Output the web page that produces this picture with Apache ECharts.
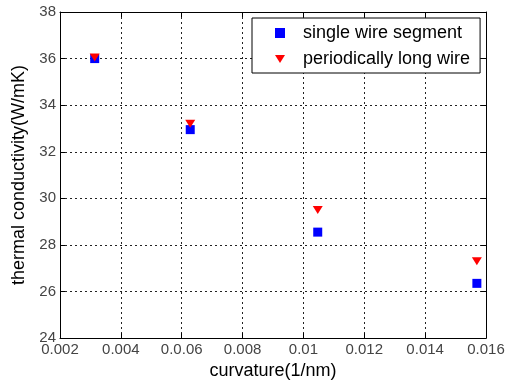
<!DOCTYPE html>
<html>
<head>
<meta charset="utf-8">
<script src="https://cdn.jsdelivr.net/npm/echarts@6/dist/echarts.min.js"></script>
<style>
  html, body { margin: 0; padding: 0; background: #fff; }
  #chart { width: 512px; height: 385px; }
</style>
</head>
<body>
<div id="chart"></div>
<script>
// curvature (1/nm) of each sample
const curvature = [0.00314, 0.00628, 0.01047, 0.0157];
// thermal conductivity (W/mK)
const singleWire = [36.0, 32.95, 28.55, 26.35];
const periodicWire = [36.05, 33.2, 29.5, 27.3];

const xTickLabels = ['0.002', '0.004', '0.0.06', '0.008', '0.01', '0.012', '0.014', '0.016'];
const yTicks = [24, 26, 28, 30, 32, 34, 36, 38];

const xMin = 0.002, xMax = 0.016, xStep = 0.002;

const chart = echarts.init(document.getElementById('chart'));

const font = 'Liberation Sans, Arial, sans-serif';
const gridLine = { show: true, lineStyle: { color: '#222', type: [2, 3], width: 1 } };
const axisLine = { show: true, lineStyle: { color: '#000', width: 1 } };
const tick = { show: true, inside: true, length: 5, lineStyle: { color: '#000' } };
const triangle = 'path://M0,0 L10,0 L5,8 Z';

const option = {
  animation: false,
  backgroundColor: '#fff',
  grid: { left: 60, right: 26, top: 12, bottom: 44 },
  legend: {
    orient: 'vertical',
    left: 252,
    top: 18,
    width: 228,
    padding: [6, 10, 5, 23],
    itemGap: 8,
    itemWidth: 10,
    itemHeight: 10,
    backgroundColor: '#fff',
    borderColor: '#000',
    borderWidth: 1,
    borderRadius: 0,
    textStyle: { fontFamily: font, fontSize: 18, color: '#000', padding: [0, 0, 0, 13] },
    data: [
      { name: 'single wire segment', icon: 'rect' },
      { name: 'periodically long wire', icon: triangle }
    ]
  },
  xAxis: [
    {
      type: 'value',
      min: xMin,
      max: xMax,
      interval: xStep,
      name: 'curvature(1/nm)',
      nameLocation: 'middle',
      nameGap: 22,
      nameTextStyle: { fontFamily: font, fontSize: 18, color: '#000' },
      axisLine: axisLine,
      axisTick: tick,
      splitLine: gridLine,
      axisLabel: {
        fontFamily: font,
        fontSize: 15,
        color: '#444',
        margin: 4,
        formatter: v => xTickLabels[Math.round((v - xMin) / xStep)]
      }
    },
    {
      type: 'value',
      position: 'top',
      min: xMin,
      max: xMax,
      interval: xStep,
      axisLine: axisLine,
      axisTick: tick,
      axisLabel: { show: false },
      splitLine: { show: false }
    }
  ],
  yAxis: [
    {
      type: 'value',
      min: yTicks[0],
      max: yTicks[yTicks.length - 1],
      interval: 2,
      name: 'thermal conductivity(W/mK)',
      nameLocation: 'middle',
      nameGap: 28,
      nameTextStyle: { fontFamily: font, fontSize: 18, color: '#000' },
      axisLine: axisLine,
      axisTick: tick,
      splitLine: gridLine,
      axisLabel: { fontFamily: font, fontSize: 15, color: '#444', margin: 4 }
    },
    {
      type: 'value',
      position: 'right',
      min: yTicks[0],
      max: yTicks[yTicks.length - 1],
      interval: 2,
      axisLine: axisLine,
      axisTick: tick,
      axisLabel: { show: false },
      splitLine: { show: false }
    }
  ],
  series: [
    {
      name: 'single wire segment',
      type: 'scatter',
      symbol: 'rect',
      symbolSize: 9,
      itemStyle: { color: '#0000ff', opacity: 1 },
      data: curvature.map((x, i) => [x, singleWire[i]])
    },
    {
      name: 'periodically long wire',
      type: 'scatter',
      symbol: triangle,
      symbolSize: [10, 8],
      itemStyle: { color: '#ff0000', opacity: 1 },
      data: curvature.map((x, i) => [x, periodicWire[i]])
    }
  ]
};

chart.setOption(option);
</script>
</body>
</html>
